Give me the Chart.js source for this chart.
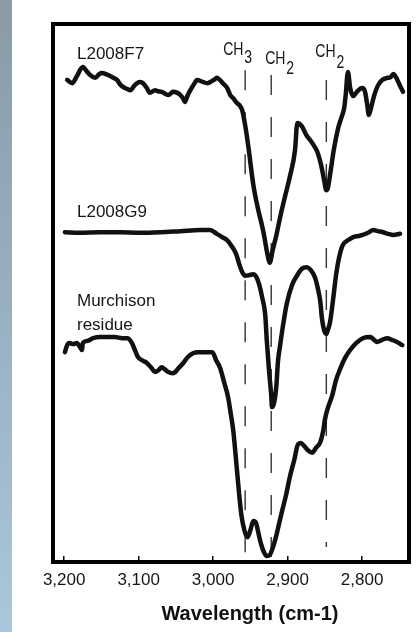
<!DOCTYPE html>
<html><head><meta charset="utf-8">
<script src="https://cdn.jsdelivr.net/npm/chart.js@4.4.1/dist/chart.umd.min.js"></script>
<style>
html,body{margin:0;padding:0;background:#fff;}
#wrap{position:relative;width:418px;height:632px;overflow:hidden;background:#fff;}
#panel{position:absolute;left:0;top:0;width:12px;height:632px;background:linear-gradient(#8a9aa7,#a9c7dc);}
canvas{position:absolute;left:0;top:0;}
</style></head><body>
<div id="wrap"><div id="panel"></div><canvas id="c" width="418" height="632"></canvas></div>
<script>
// Wavenumbers (cm-1) and relative signal (arbitrary units, 0-100 frame height)
const seriesNames = ['L2008F7', 'L2008G9', 'Murchison', 'residue'];
const xTicks = [3200, 3100, 3000, 2900, 2800];
const xTitle = 'Wavelength (cm-1)';

const f7Wn = [3196,3189,3183,3175,3169,3165,3158,3153,3149,3144,
  3141,3134,3129,3125,3121,3115,3111,3106,3102,3098,
  3094,3089,3085,3078,3074,3069,3064,3060,3056,3054,
  3048,3044,3040,3038,3034,3028,3024,3022,3013,3008,
  3004,2999,2995,2991,2987,2981,2977,2973,2968,2964,
  2961,2957,2953,2946,2940,2933,2926,2924,2920,2915,
  2910,2903,2897,2890,2887,2881,2875,2867,2860,2855,
  2851,2848,2846,2842,2838,2832,2828,2824,2822,2819,
  2816,2812,2807,2800,2796,2793,2791,2788,2784,2779,
  2773,2766,2762,2758,2754,2750,2745];
const f7Val = [89.6,89.0,90.3,92.0,91.1,90.5,90.0,90.7,90.9,90.7,
  90.5,90.0,89.6,88.8,88.3,87.9,87.7,88.5,89.0,89.2,
  89.0,88.1,87.2,87.7,87.5,87.4,87.0,86.8,87.2,87.4,
  87.2,86.8,86.1,85.5,86.8,88.3,89.2,89.6,89.2,89.0,
  89.2,89.6,90.0,89.6,89.0,88.1,86.8,86.2,85.3,84.8,
  84.0,81.2,77.5,70.1,65.8,61.7,56.5,55.6,58.0,60.8,
  64.1,68.2,71.6,76.6,81.6,81.0,79.4,77.9,76.2,73.8,
  71.0,69.1,69.5,72.9,76.6,80.7,82.5,84.4,86.8,91.1,
  88.1,86.6,87.4,88.1,87.4,84.9,83.1,84.4,86.6,88.5,
  89.6,90.0,90.1,90.7,90.0,88.8,87.4];

const g9Wn = [3199,3179,3152,3125,3098,3071,3044,3017,3004,2995,
  2988,2981,2975,2969,2965,2961,2957,2952,2946,2942,
  2938,2934,2930,2928,2925,2922,2921,2918,2915,2913,
  2910,2906,2901,2894,2887,2881,2874,2869,2863,2859,
  2856,2854,2851,2848,2846,2843,2839,2835,2831,2826,
  2819,2812,2805,2799,2792,2785,2779,2772,2765,2758,
  2749];
const g9Val = [61.3,61.2,61.3,61.3,61.2,61.3,61.5,61.7,61.7,61.0,
  60.4,59.8,58.7,57.2,55.4,53.9,53.2,53.3,53.5,53.0,
  51.5,49.1,45.9,41.3,35.7,31.0,28.8,29.7,32.9,37.2,
  40.3,44.1,48.1,51.5,53.3,54.5,54.8,54.3,52.8,50.6,
  48.3,45.4,43.1,42.4,43.1,44.6,48.7,53.3,56.5,58.9,
  59.8,60.4,60.6,60.8,61.2,61.7,61.5,61.3,61.0,60.8,
  61.0];

const murWn = [3199,3196,3193,3188,3183,3179,3176,3175,3169,3161,
  3152,3142,3132,3122,3115,3109,3105,3101,3094,3089,
  3083,3078,3073,3069,3064,3060,3055,3051,3046,3040,
  3034,3027,3020,3013,3007,3001,2996,2991,2985,2980,
  2976,2973,2971,2968,2965,2962,2958,2954,2950,2946,
  2942,2940,2936,2932,2928,2924,2920,2915,2911,2907,
  2902,2897,2891,2886,2882,2878,2873,2867,2862,2856,
  2852,2850,2846,2840,2835,2830,2823,2816,2808,2799,
  2789,2784,2780,2773,2766,2760,2753,2746];
const murVal = [39.0,40.3,40.7,40.5,40.7,40.0,39.4,40.7,41.1,41.6,
  41.8,41.8,41.8,41.6,41.6,40.7,39.4,38.1,37.4,37.0,
  36.1,35.3,35.7,36.2,35.7,35.3,35.1,35.3,36.1,37.0,
  38.1,38.8,39.0,39.0,39.0,39.0,37.5,36.2,33.3,30.7,
  27.3,24.5,21.7,17.1,12.5,8.7,5.9,4.6,5.9,7.6,
  7.1,5.9,3.5,1.9,1.1,1.3,2.6,5.0,7.4,9.7,
  12.5,15.8,19.0,21.9,22.1,21.6,20.8,20.3,21.2,22.3,
  24.5,26.4,28.6,31.0,33.8,35.7,37.9,39.4,40.7,41.6,
  41.8,41.3,40.9,41.3,41.6,41.3,40.9,40.3];

// Band assignments (dashed guide lines)
const bandNames = ['CH', 'CH', 'CH'];
const bandSubs = ['3', '2', '2'];
const bandWn = [2957, 2922, 2848];
const bandTop = [91.4, 90.5, 89.6];
const bandBottom = [0.9, 0.9, 2.8];

function pts(xs, ys){ return xs.map((x,i)=>({x:x, y:ys[i]})); }

const curveStyle = {borderColor:'#111', borderWidth:4.5, pointRadius:0, fill:false,
  cubicInterpolationMode:'monotone', borderJoinStyle:'round', borderCapStyle:'round', order:1};

const datasets = [
  Object.assign({label:seriesNames[0], data:pts(f7Wn,f7Val)}, curveStyle),
  Object.assign({label:seriesNames[1], data:pts(g9Wn,g9Val)}, curveStyle),
  Object.assign({label:seriesNames[2], data:pts(murWn,murVal)}, curveStyle)
];
bandWn.forEach((w,i)=>{
  datasets.push({label:bandNames[i]+bandSubs[i], data:[{x:w,y:bandTop[i]},{x:w,y:bandBottom[i]}],
    borderColor:'#333', borderWidth:1.4, borderDash:[20,22], pointRadius:0, fill:false, order:2});
});

const annot = {
  id:'annot',
  afterDatasetsDraw(chart){
    const ctx = chart.ctx, a = chart.chartArea, xs = chart.scales.x;
    ctx.save();
    // frame
    ctx.lineWidth = 4; ctx.strokeStyle = '#000';
    ctx.strokeRect(a.left, a.top, a.right-a.left, a.bottom-a.top);
    // series labels
    ctx.fillStyle = '#161616';
    ctx.font = '17px "Liberation Sans", Arial, sans-serif';
    ctx.textAlign = 'left'; ctx.textBaseline = 'alphabetic';
    const lx = a.left + 24;
    ctx.fillText(seriesNames[0], lx, 59);
    ctx.fillText(seriesNames[1], lx, 217);
    ctx.fillText(seriesNames[2], lx, 306);
    ctx.fillText(seriesNames[3], lx, 330);
    // band labels (condensed)
    const offs = [[-22,55,8],[-6,64,10],[-11,57,11]];
    bandWn.forEach((w,i)=>{
      const px = xs.getPixelForValue(w) + offs[i][0];
      ctx.save();
      ctx.translate(px, offs[i][1]);
      ctx.scale(0.78, 1);
      ctx.font = '18px "Liberation Sans", Arial, sans-serif';
      ctx.fillText(bandNames[i], 0, 0);
      const wch = ctx.measureText(bandNames[i]).width;
      ctx.fillText(bandSubs[i], wch + 1, offs[i][2]);
      ctx.restore();
    });
    // axis title
    ctx.font = 'bold 20px "Liberation Sans", Arial, sans-serif';
    ctx.textAlign = 'center'; ctx.textBaseline = 'middle';
    ctx.fillStyle = '#111';
    ctx.fillText(xTitle, 250, 614);
    ctx.restore();
  }
};

new Chart(document.getElementById('c'), {
  type:'line',
  data:{datasets:datasets},
  options:{
    responsive:false, animation:false, devicePixelRatio:1,
    layout:{padding:{left:53, right:9, top:24, bottom:0}},
    plugins:{legend:{display:false}, tooltip:{enabled:false}},
    scales:{
      x:{type:'linear', reverse:true, min:2737, max:3215,
        afterFit:(s)=>{ s.height = 70; },
        afterBuildTicks:(s)=>{ s.ticks = xTicks.map(v=>({value:v})); },
        border:{display:false},
        grid:{display:true, drawOnChartArea:false, drawTicks:true, tickLength:-6, color:'#000', lineWidth:1.5},
        ticks:{padding:14, color:'#161616', font:{family:'"Liberation Sans", Arial, sans-serif', size:17},
          callback:(v)=>Number(v).toLocaleString('en-US')}
      },
      y:{type:'linear', display:false, min:0, max:100}
    }
  },
  plugins:[annot]
});
</script>
</body></html>
